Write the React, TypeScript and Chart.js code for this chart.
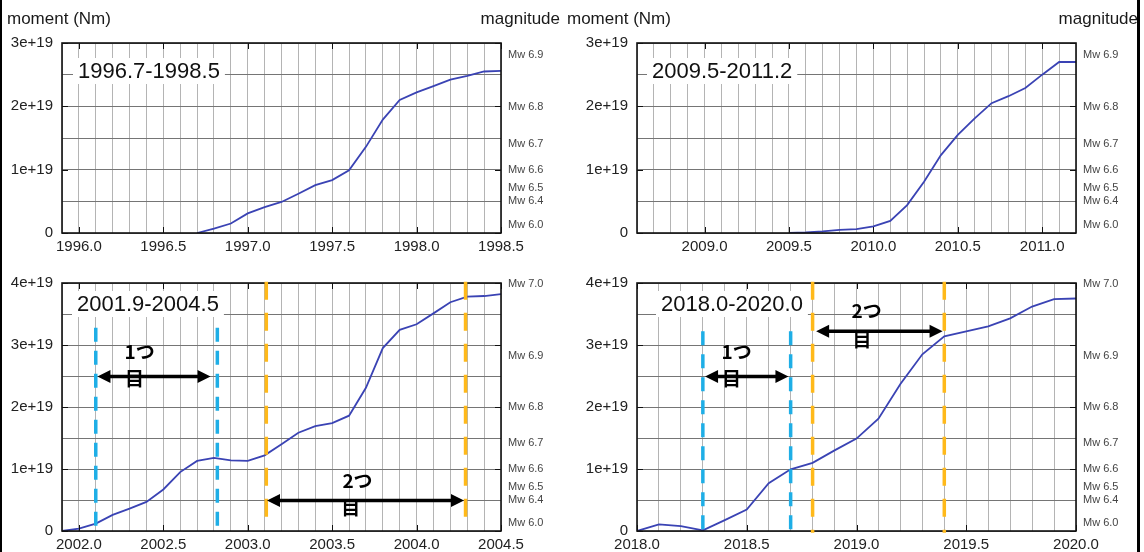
import React, { useEffect, useRef } from "react";
import { Chart, registerables } from "chart.js";

Chart.register(...registerables);

const FONT = '"Liberation Sans", Arial, Helvetica, sans-serif';
const JP_FONT = '"Noto Sans CJK JP", "Noto Sans", sans-serif';

// ---------------- data (seismic moment in units of 1e19 Nm) ----------------
const p1Years = [1996.7, 1996.8, 1996.9, 1997.0, 1997.1, 1997.2, 1997.3, 1997.4, 1997.5, 1997.6, 1997.7, 1997.8, 1997.9, 1998.0, 1998.1, 1998.2, 1998.3, 1998.4, 1998.5];
const p1Moment = [0, 0.07, 0.15, 0.31, 0.41, 0.49, 0.62, 0.755, 0.835, 0.99, 1.36, 1.79, 2.1, 2.22, 2.32, 2.42, 2.48, 2.55, 2.56];

const p2Years = [2009.5, 2009.6, 2009.7, 2009.8, 2009.9, 2010.0, 2010.1, 2010.2, 2010.3, 2010.4, 2010.5, 2010.6, 2010.7, 2010.8, 2010.9, 2011.0, 2011.1, 2011.2];
const p2Moment = [0, 0.01, 0.026, 0.05, 0.06, 0.105, 0.19, 0.44, 0.81, 1.23, 1.55, 1.81, 2.05, 2.16, 2.29, 2.5, 2.7, 2.7];

const p3Years = [2001.9, 2002.0, 2002.1, 2002.2, 2002.3, 2002.4, 2002.5, 2002.6, 2002.7, 2002.8, 2002.9, 2003.0, 2003.1, 2003.2, 2003.3, 2003.4, 2003.5, 2003.6, 2003.7, 2003.8, 2003.9, 2004.0, 2004.1, 2004.2, 2004.3, 2004.4, 2004.5];
const p3Moment = [0, 0.04, 0.12, 0.26, 0.36, 0.47, 0.67, 0.95, 1.13, 1.18, 1.14, 1.13, 1.22, 1.4, 1.585, 1.69, 1.74, 1.86, 2.31, 2.95, 3.245, 3.335, 3.51, 3.69, 3.78, 3.79, 3.82];

const p4Years = [2018.0, 2018.1, 2018.2, 2018.3, 2018.4, 2018.5, 2018.6, 2018.7, 2018.8, 2018.9, 2019.0, 2019.1, 2019.2, 2019.3, 2019.4, 2019.5, 2019.6, 2019.7, 2019.8, 2019.9, 2020.0];
const p4Moment = [0, 0.106, 0.08, 0.01, 0.175, 0.345, 0.77, 0.995, 1.1, 1.3, 1.49, 1.81, 2.37, 2.85, 3.14, 3.22, 3.3, 3.43, 3.62, 3.74, 3.75];

// tick labels
const p1XLabels = ["1996.0", "1996.5", "1997.0", "1997.5", "1998.0", "1998.5"];
const p2XLabels = ["2009.0", "2009.5", "2010.0", "2010.5", "2011.0"];
const p3XLabels = ["2002.0", "2002.5", "2003.0", "2003.5", "2004.0", "2004.5"];
const p4XLabels = ["2018.0", "2018.5", "2019.0", "2019.5", "2020.0"];

const momentTickValues = [0, 1, 2, 3, 4];
const momentTickLabels = ["0", "1e+19", "2e+19", "3e+19", "4e+19"];

const mwValues = [6.0, 6.4, 6.5, 6.6, 6.7, 6.8, 6.9, 7.0];
const mwLabels = ["Mw 6.0", "Mw 6.4", "Mw 6.5", "Mw 6.6", "Mw 6.7", "Mw 6.8", "Mw 6.9", "Mw 7.0"];
// moment (1e19 Nm) of each magnitude: M0 = 10^(1.5 Mw + 9.1)
const mwMoment = mwValues.map((m) => Math.pow(10, 1.5 * m + 9.1 - 19));

// annotations (years / moment 1e19)
const p3Cyan = [2002.1, 2002.82];
const p3Orange = [2003.11, 2004.29];
const p4Cyan = [2018.3, 2018.7];
const p4Orange = [2018.8, 2019.4];

const p3Arrows = [
  { x1: 2002.11, x2: 2002.78, y: 2.49 },
  { x1: 2003.114, x2: 2004.281, y: 0.49 },
];
const p4Arrows = [
  { x1: 2018.31, x2: 2018.69, y: 2.49 },
  { x1: 2018.816, x2: 2019.392, y: 3.22 },
];
const p3Notes = [
  { text: "1つ", x: 2002.36, y: 2.895 },
  { text: "目", x: 2002.33, y: 2.46 },
  { text: "2つ", x: 2003.65, y: 0.81 },
  { text: "目", x: 2003.61, y: 0.38 },
];
const p4Notes = [
  { text: "1つ", x: 2018.454, y: 2.895 },
  { text: "目", x: 2018.43, y: 2.46 },
  { text: "2つ", x: 2019.046, y: 3.55 },
  { text: "目", x: 2019.025, y: 3.09 },
];

type PanelCfg = {
  left: number; top: number; w: number; h: number;
  area: { left: number; right: number; top: number; bottom: number };
  xMin: number; xMax: number; yMax: number;
  years: number[]; moment: number[]; xLabels: string[];
  period: string; periodX: number; periodY: number;
  titles: boolean; magRight: number;
  cyan: number[]; cyanTop: number; cyanBottom: number;
  orange: number[]; orangeTop: number; orangeBottom: number;
  arrows: { x1: number; x2: number; y: number }[];
  notes: { text: string; x: number; y: number }[];
};

const panels: PanelCfg[] = [
  {
    left: 0, top: 0, w: 566, h: 265,
    area: { left: 62, right: 501, top: 43, bottom: 233 },
    xMin: 1995.9, xMax: 1998.5, yMax: 3,
    years: p1Years, moment: p1Moment, xLabels: p1XLabels,
    period: "1996.7-1998.5", periodX: 78, periodY: 71,
    titles: true, magRight: 560,
    cyan: [], cyanTop: 0, cyanBottom: 0, orange: [], orangeTop: 0, orangeBottom: 0,
    arrows: [], notes: [],
  },
  {
    left: 566, top: 0, w: 578, h: 265,
    area: { left: 71, right: 510, top: 43, bottom: 233 },
    xMin: 2008.6, xMax: 2011.2, yMax: 3,
    years: p2Years, moment: p2Moment, xLabels: p2XLabels,
    period: "2009.5-2011.2", periodX: 86, periodY: 71,
    titles: true, magRight: 572,
    cyan: [], cyanTop: 0, cyanBottom: 0, orange: [], orangeTop: 0, orangeBottom: 0,
    arrows: [], notes: [],
  },
  {
    left: 0, top: 265, w: 566, h: 287,
    area: { left: 62, right: 501, top: 16, bottom: 266 },
    xMin: 2001.9, xMax: 2004.5, yMax: 4,
    years: p3Years, moment: p3Moment, xLabels: p3XLabels,
    period: "2001.9-2004.5", periodX: 77, periodY: 39,
    titles: false, magRight: 0,
    cyan: p3Cyan, cyanTop: 3.28, cyanBottom: -0.06,
    orange: p3Orange, orangeTop: 4.02, orangeBottom: 0.05,
    arrows: p3Arrows, notes: p3Notes,
  },
  {
    left: 566, top: 265, w: 578, h: 287,
    area: { left: 71, right: 510, top: 16, bottom: 266 },
    xMin: 2018.0, xMax: 2020.0, yMax: 4,
    years: p4Years, moment: p4Moment, xLabels: p4XLabels,
    period: "2018.0-2020.0", periodX: 95, periodY: 39,
    titles: false, magRight: 0,
    cyan: p4Cyan, cyanTop: 3.22, cyanBottom: -0.06,
    orange: p4Orange, orangeTop: 4.02, orangeBottom: -0.03,
    arrows: p4Arrows, notes: p4Notes,
  },
];

function drawArrow(ctx: CanvasRenderingContext2D, x1: number, x2: number, y: number) {
  const head = 13;
  const hw = 6.5;
  ctx.save();
  ctx.strokeStyle = "#000";
  ctx.fillStyle = "#000";
  ctx.lineWidth = 3.5;
  ctx.beginPath();
  ctx.moveTo(x1 + head - 2, y);
  ctx.lineTo(x2 - head + 2, y);
  ctx.stroke();
  ctx.beginPath();
  ctx.moveTo(x1, y);
  ctx.lineTo(x1 + head, y - hw);
  ctx.lineTo(x1 + head, y + hw);
  ctx.closePath();
  ctx.fill();
  ctx.beginPath();
  ctx.moveTo(x2, y);
  ctx.lineTo(x2 - head, y - hw);
  ctx.lineTo(x2 - head, y + hw);
  ctx.closePath();
  ctx.fill();
  ctx.restore();
}

function Panel({ cfg }: { cfg: PanelCfg }) {
  const ref = useRef<HTMLCanvasElement>(null);

  useEffect(() => {
    const c = cfg;
    const overlay = {
      id: "overlay",
      beforeDatasetsDraw(chart: any) {
        const ctx: CanvasRenderingContext2D = chart.ctx;
        ctx.save();
        ctx.font = `22px ${FONT}`;
        const w = ctx.measureText(c.period).width;
        ctx.fillStyle = "#fff";
        ctx.fillRect(c.periodX - 5, c.periodY - 13, w + 10, 26);
        ctx.fillStyle = "#111";
        ctx.textBaseline = "middle";
        ctx.textAlign = "left";
        ctx.fillText(c.period, c.periodX, c.periodY + 1);
        ctx.restore();
      },
      afterDatasetsDraw(chart: any) {
        const ctx: CanvasRenderingContext2D = chart.ctx;
        const a = chart.chartArea;
        const xs = chart.scales.x;
        const ys = chart.scales.y;

        // plot border
        ctx.save();
        ctx.strokeStyle = "#111";
        ctx.lineWidth = 1.6;
        ctx.strokeRect(a.left, a.top, a.right - a.left, a.bottom - a.top);
        // inward major ticks
        ctx.lineWidth = 1;
        ctx.beginPath();
        c.xLabels.forEach((l) => {
          const px = Math.round(xs.getPixelForValue(parseFloat(l))) + 0.5;
          ctx.moveTo(px, a.bottom);
          ctx.lineTo(px, a.bottom - 6);
          ctx.moveTo(px, a.top);
          ctx.lineTo(px, a.top + 6);
        });
        momentTickValues.forEach((v) => {
          if (v > c.yMax) return;
          const py = Math.round(ys.getPixelForValue(v)) + 0.5;
          ctx.moveTo(a.left, py);
          ctx.lineTo(a.left + 6, py);
          ctx.moveTo(a.right, py);
          ctx.lineTo(a.right - 6, py);
        });
        ctx.stroke();
        ctx.restore();

        // dashed period markers
        ctx.save();
        ctx.lineWidth = 3.5;
        ctx.strokeStyle = "#1eaee6";
        ctx.setLineDash([14, 9]);
        c.cyan.forEach((xv) => {
          const px = xs.getPixelForValue(xv);
          ctx.beginPath();
          ctx.moveTo(px, ys.getPixelForValue(c.cyanTop));
          ctx.lineTo(px, ys.getPixelForValue(c.cyanBottom));
          ctx.stroke();
        });
        ctx.strokeStyle = "#ffb91a";
        ctx.setLineDash([18, 13]);
        c.orange.forEach((xv) => {
          const px = xs.getPixelForValue(xv);
          ctx.beginPath();
          ctx.moveTo(px, ys.getPixelForValue(c.orangeTop));
          ctx.lineTo(px, ys.getPixelForValue(c.orangeBottom));
          ctx.stroke();
        });
        ctx.restore();

        // arrows
        c.arrows.forEach((ar) => {
          drawArrow(ctx, xs.getPixelForValue(ar.x1), xs.getPixelForValue(ar.x2), ys.getPixelForValue(ar.y));
        });

        // notes
        ctx.save();
        ctx.fillStyle = "#000";
        ctx.font = `bold 19px ${JP_FONT}`;
        ctx.textAlign = "center";
        ctx.textBaseline = "middle";
        c.notes.forEach((n) => {
          ctx.fillText(n.text, xs.getPixelForValue(n.x), ys.getPixelForValue(n.y));
        });
        ctx.restore();

        // axis titles
        if (c.titles) {
          ctx.save();
          ctx.fillStyle = "#1a1a1a";
          ctx.font = `17px ${FONT}`;
          ctx.textBaseline = "middle";
          ctx.textAlign = "left";
          ctx.fillText("moment (Nm)", c.left === 0 ? 7 : 1, 19);
          ctx.textAlign = "right";
          ctx.fillText("magnitude", c.magRight, 19);
          ctx.restore();
        }
      },
    };

    const xTicks: { value: number }[] = [];
    for (let k = Math.round(c.xMin * 10); k <= Math.round(c.xMax * 10); k++) xTicks.push({ value: k / 10 });
    const yTicks: { value: number }[] = [];
    for (let k = 0; k <= c.yMax * 2; k++) yTicks.push({ value: k / 2 });
    const mwTicks = mwMoment.map((v) => ({ value: v })).filter((t) => t.value <= c.yMax + 1e-9);

    const chart = new Chart(ref.current as HTMLCanvasElement, {
      type: "line",
      data: {
        datasets: [
          {
            data: c.years.map((x, i) => ({ x, y: c.moment[i] })),
            borderColor: "#3a43b4",
            borderWidth: 1.8,
            pointRadius: 0,
            tension: 0,
            fill: false,
          },
        ],
      },
      options: {
        animation: false,
        responsive: false,
        maintainAspectRatio: false,
        devicePixelRatio: 1,
        events: [],
        layout: { padding: { top: c.area.top, left: 0, right: 0, bottom: 0 } },
        plugins: { legend: { display: false }, tooltip: { enabled: false }, title: { display: false } },
        scales: {
          x: {
            type: "linear",
            min: c.xMin,
            max: c.xMax,
            afterBuildTicks: (s: any) => { s.ticks = xTicks.map((t) => ({ ...t })); },
            afterFit: (s: any) => { s.height = c.h - c.area.bottom; },
            grid: { color: "#b4b4b4", lineWidth: 1, drawTicks: false },
            border: { display: false },
            ticks: {
              autoSkip: false,
              maxRotation: 0,
              padding: 5,
              color: "#222",
              font: { family: FONT, size: 15 },
              callback: (v: any) => {
                const lab = c.xLabels.find((l) => Math.abs(parseFloat(l) - Number(v)) < 1e-6);
                return lab ?? "";
              },
            },
          },
          y: {
            type: "linear",
            position: "left",
            min: 0,
            max: c.yMax,
            afterBuildTicks: (s: any) => { s.ticks = yTicks.map((t) => ({ ...t })); },
            afterFit: (s: any) => { s.width = c.area.left; },
            grid: { color: "#757575", lineWidth: 1, drawTicks: false },
            border: { display: false },
            ticks: {
              autoSkip: false,
              padding: 9,
              color: "#222",
              font: { family: FONT, size: 15 },
              callback: (v: any) => {
                const i = momentTickValues.findIndex((m) => Math.abs(m - Number(v)) < 1e-6);
                return i >= 0 ? momentTickLabels[i] : "";
              },
            },
          },
          y2: {
            type: "linear",
            position: "right",
            min: 0,
            max: c.yMax,
            afterBuildTicks: (s: any) => { s.ticks = mwTicks.map((t) => ({ ...t })); },
            afterFit: (s: any) => { s.width = c.w - c.area.right; },
            grid: { display: false, drawTicks: false },
            border: { display: false },
            ticks: {
              autoSkip: false,
              padding: 7,
              color: "#444",
              font: { family: FONT, size: 11 },
              callback: (v: any) => {
                const i = mwMoment.findIndex((m) => Math.abs(m - Number(v)) < 1e-9);
                return i >= 0 ? mwLabels[i] : "";
              },
            },
          },
        },
      } as any,
      plugins: [overlay],
    });
    return () => chart.destroy();
  }, [cfg]);

  return (
    <canvas
      ref={ref}
      width={cfg.w}
      height={cfg.h}
      style={{ position: "absolute", left: cfg.left, top: cfg.top, width: cfg.w, height: cfg.h }}
    />
  );
}

export default function App() {
  return (
    <div
      style={{
        position: "absolute",
        left: 0,
        top: 0,
        width: 1144,
        height: 552,
        background: "#fff",
        overflow: "hidden",
      }}
    >
      {panels.map((p, i) => (
        <Panel key={i} cfg={p} />
      ))}
      <div style={{ position: "absolute", left: 0, top: 0, width: 2, height: 552, background: "#000" }} />
      <div style={{ position: "absolute", left: 1137, top: 0, width: 3, height: 552, background: "#000" }} />
    </div>
  );
}
